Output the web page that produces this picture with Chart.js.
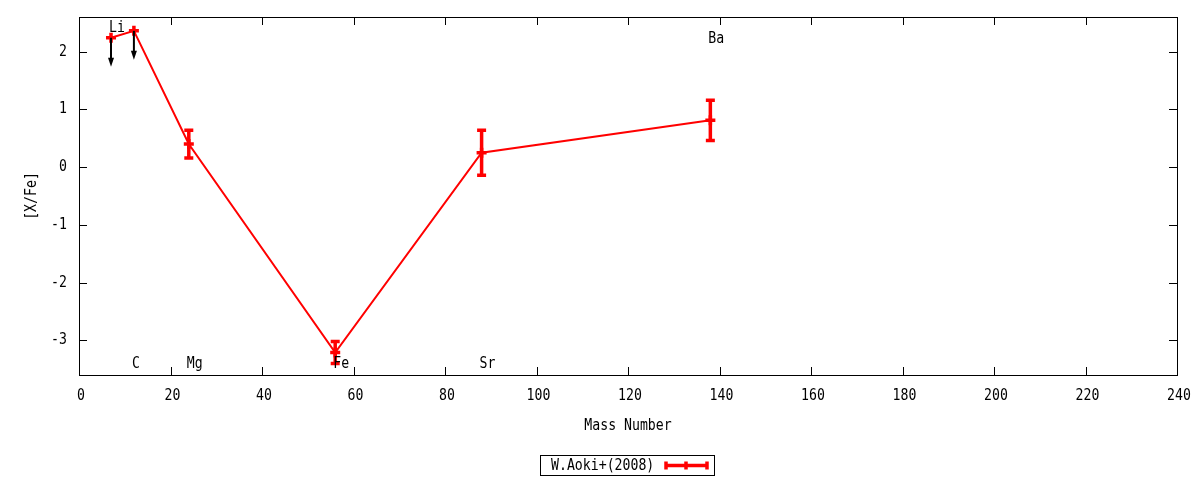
<!DOCTYPE html>
<html>
<head>
<meta charset="utf-8">
<script src="https://cdn.jsdelivr.net/npm/chart.js@4.4.1/dist/chart.umd.min.js"></script>
<style>
  html, body { margin: 0; padding: 0; background: #fff; }
  #wrap { width: 1200px; height: 480px; }
</style>
</head>
<body>
<div id="wrap"><canvas id="chart" width="1200" height="480"></canvas></div>
<script>
// Abundance pattern [X/Fe] vs mass number

const elements = ['Li', 'C', 'Mg', 'Fe', 'Sr', 'Ba'];
const massNumbers = [7, 12, 24, 56, 88, 138];
const xFe = [2.24, 2.36, 0.40, -3.21, 0.25, 0.81];
const xFeErr = [0, 0, 0.24, 0.19, 0.39, 0.35];
const upperLimit = [true, true, false, false, false, false];
const labelY = [2.4, -3.42, -3.42, -3.42, -3.42, 2.22];
const xTicks = [0, 20, 40, 60, 80, 100, 120, 140, 160, 180, 200, 220, 240];
const yTicks = [-3, -2, -1, 0, 1, 2];
const seriesName = 'W.Aoki+(2008)';

const FONT = '15px "DejaVu Sans Mono", monospace';
const RED = '#ff0000';

// Narrow monospace text, like the gnuplot terminal font
function drawText(ctx, text, x, y, align, angle) {
    ctx.save();
    ctx.translate(x, y);
    if (angle) ctx.rotate(angle);
    ctx.scale(0.88, 1);
    ctx.font = FONT;
    ctx.fillStyle = '#000';
    ctx.textAlign = align;
    ctx.textBaseline = 'middle';
    ctx.fillText(text, 0, 0);
    ctx.restore();
}

// Draw frame, inward ticks, labels, error bars, limit arrows and legend
const gnuplotStyle = {
    id: 'gnuplotStyle',
    afterDatasetsDraw(chart) {
        const ctx = chart.ctx;
        const area = chart.chartArea;
        const xs = chart.scales.x;
        const ys = chart.scales.y;

        ctx.save();

        // Error bars
        ctx.strokeStyle = RED;
        ctx.lineWidth = 3.5;
        massNumbers.forEach((m, i) => {
            if (!xFeErr[i]) return;
            const px = xs.getPixelForValue(m);
            const top = ys.getPixelForValue(xFe[i] + xFeErr[i]);
            const bot = ys.getPixelForValue(xFe[i] - xFeErr[i]);
            ctx.beginPath();
            ctx.moveTo(px, top); ctx.lineTo(px, bot);
            ctx.moveTo(px - 4.5, top); ctx.lineTo(px + 4.5, top);
            ctx.moveTo(px - 4.5, bot); ctx.lineTo(px + 4.5, bot);
            ctx.stroke();
        });

        // Upper limit arrows
        ctx.strokeStyle = '#000';
        ctx.fillStyle = '#000';
        ctx.lineWidth = 2;
        massNumbers.forEach((m, i) => {
            if (!upperLimit[i]) return;
            const px = xs.getPixelForValue(m);
            const y0 = ys.getPixelForValue(xFe[i]);
            const y1 = ys.getPixelForValue(xFe[i] - 0.5);
            ctx.beginPath();
            ctx.moveTo(px, y0); ctx.lineTo(px, y1 - 6);
            ctx.stroke();
            ctx.beginPath();
            ctx.moveTo(px, y1);
            ctx.lineTo(px - 3, y1 - 9);
            ctx.lineTo(px + 3, y1 - 9);
            ctx.closePath();
            ctx.fill();
        });

        // Element labels (left aligned at the mass number)
        elements.forEach((el, i) => {
            drawText(ctx, el, xs.getPixelForValue(massNumbers[i]) - 2, ys.getPixelForValue(labelY[i]), 'left');
        });

        // Frame
        ctx.strokeStyle = '#000';
        ctx.lineWidth = 1;
        ctx.strokeRect(Math.round(area.left) + 0.5, Math.round(area.top) + 0.5,
            Math.round(area.right - area.left), Math.round(area.bottom - area.top));

        // Inward ticks on all four sides, with labels
        ctx.beginPath();
        xTicks.forEach(v => {
            const px = Math.round(xs.getPixelForValue(v)) + 0.5;
            ctx.moveTo(px, area.bottom); ctx.lineTo(px, area.bottom - 8);
            ctx.moveTo(px, area.top); ctx.lineTo(px, area.top + 8);
        });
        yTicks.forEach(v => {
            const py = Math.round(ys.getPixelForValue(v)) + 0.5;
            ctx.moveTo(area.left, py); ctx.lineTo(area.left + 8, py);
            ctx.moveTo(area.right, py); ctx.lineTo(area.right - 8, py);
        });
        ctx.stroke();

        xTicks.forEach(v => drawText(ctx, String(v), xs.getPixelForValue(v) + 2, area.bottom + 21, 'center'));
        yTicks.forEach(v => drawText(ctx, String(v), area.left - 12, ys.getPixelForValue(v), 'right'));

        // Axis titles
        drawText(ctx, 'Mass Number', (area.left + area.right) / 2, area.bottom + 51, 'center');
        drawText(ctx, '[X/Fe]', 32, (area.top + area.bottom) / 2, 'center', -Math.PI / 2);

        // Legend box
        const lx = 540, ly = 455, lw = 174, lh = 20;
        ctx.strokeStyle = '#000';
        ctx.lineWidth = 1;
        ctx.strokeRect(lx + 0.5, ly + 0.5, lw, lh);
        drawText(ctx, seriesName, lx + 11, ly + lh / 2 + 1, 'left');
        ctx.strokeStyle = RED;
        ctx.lineWidth = 3.5;
        const sy = ly + lh / 2 + 0.5;
        ctx.beginPath();
        ctx.moveTo(666, sy); ctx.lineTo(707, sy);
        ctx.moveTo(666, sy - 4); ctx.lineTo(666, sy + 4);
        ctx.moveTo(707, sy - 4); ctx.lineTo(707, sy + 4);
        ctx.moveTo(686, sy - 4); ctx.lineTo(686, sy + 4);
        ctx.stroke();

        ctx.restore();
    }
};

new Chart(document.getElementById('chart').getContext('2d'), {
    type: 'line',
    data: {
        datasets: [{
            label: seriesName,
            data: massNumbers.map((m, i) => ({ x: m, y: xFe[i] })),
            borderColor: RED,
            backgroundColor: RED,
            borderWidth: 2,
            pointStyle: 'cross',
            pointRadius: 5,
            pointBorderWidth: 3.5,
            tension: 0
        }]
    },
    options: {
        responsive: false,
        animation: false,
        layout: { padding: { top: 17, right: 23, left: 0, bottom: 0 } },
        plugins: {
            legend: { display: false },
            tooltip: { enabled: false }
        },
        scales: {
            x: {
                type: 'linear',
                min: 0,
                max: 240,
                border: { display: false },
                grid: { display: false, drawTicks: false },
                ticks: { display: false, stepSize: 20 },
                afterFit: s => { s.height = 105; }
            },
            y: {
                type: 'linear',
                min: -3.6,
                max: 2.6,
                border: { display: false },
                grid: { display: false, drawTicks: false },
                ticks: { display: false, stepSize: 1, includeBounds: false },
                afterFit: s => { s.width = 79; }
            }
        }
    },
    plugins: [gnuplotStyle]
});
</script>
</body>
</html>
